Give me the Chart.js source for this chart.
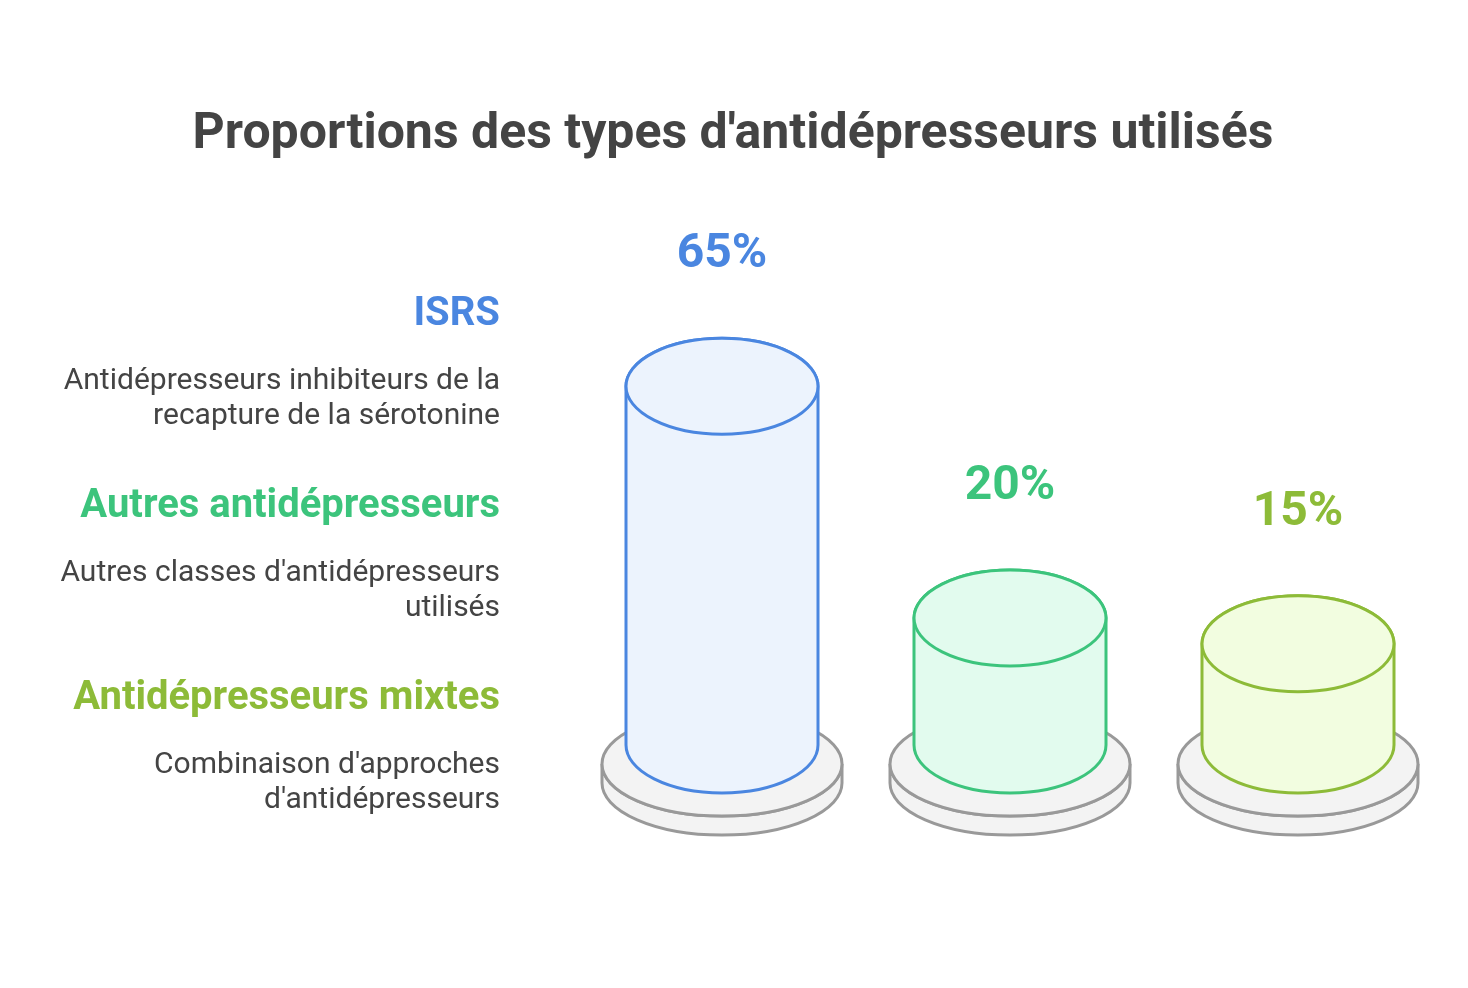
<!DOCTYPE html>
<html><head><meta charset="utf-8">
<script src="https://cdn.jsdelivr.net/npm/chart.js@4"></script>
<style>html,body{margin:0;padding:0;background:#fff}#w{width:1468px;height:988px;position:relative}</style>
</head><body><div id="w"><canvas id="c"></canvas></div>
<script>
const categories = ["ISRS", "Autres antidépresseurs", "Antidépresseurs mixtes"];
const descriptions = [["Antidépresseurs inhibiteurs de la","recapture de la sérotonine"],["Autres classes d'antidépresseurs","utilisés"],["Combinaison d'approches","d'antidépresseurs"]];
const values = [65, 20, 15];
const strokeColors = ["#4a86e0", "#3cc47c", "#8dbb38"];
const fillColors = ["#ecf3fd", "#e2fbee", "#f2fde0"];
const title = "Proportions des types d'antidépresseurs utilisés";

const cyl = {
  id: 'cyl',
  afterDatasetsDraw(chart) {
    const ctx = chart.ctx;
    const meta = chart.getDatasetMeta(0);
    ctx.save();
    ctx.fillStyle = '#444'; ctx.textAlign = 'center'; ctx.textBaseline = 'middle';
    ctx.font = 'bold 50px Roboto';
    ctx.fillText(title, 733, 135);
    ctx.textAlign = 'right';
    categories.forEach((c, i) => {
      const y0 = 315 + i * 192;
      ctx.font = 'bold 40px Roboto'; ctx.fillStyle = strokeColors[i];
      ctx.fillText(c, 500, y0);
      ctx.font = '30px Roboto'; ctx.fillStyle = '#444';
      descriptions[i].forEach((d, k) => ctx.fillText(d, 500, y0 + 66 + k * 35));
    });
    meta.data.forEach((bar, i) => {
      const cx = bar.x, ty = bar.y, by = 745, rx = 96, ry = 48;
      ctx.lineWidth = 3; ctx.strokeStyle = '#999'; ctx.fillStyle = '#f3f3f3';
      ctx.beginPath(); ctx.ellipse(cx, 783, 120, 52, 0, 0, Math.PI); ctx.lineTo(cx - 120, 764);
      ctx.ellipse(cx, 764, 120, 52, 0, Math.PI, 0, true); ctx.closePath(); ctx.fill(); ctx.stroke();
      ctx.beginPath(); ctx.ellipse(cx, 764, 120, 52, 0, 0, 2 * Math.PI); ctx.fill(); ctx.stroke();
      ctx.strokeStyle = strokeColors[i]; ctx.fillStyle = fillColors[i];
      ctx.beginPath(); ctx.moveTo(cx - rx, ty); ctx.lineTo(cx - rx, by);
      ctx.ellipse(cx, by, rx, ry, 0, Math.PI, 0, true); ctx.lineTo(cx + rx, ty);
      ctx.ellipse(cx, ty, rx, ry, 0, 0, Math.PI, true); ctx.closePath(); ctx.fill(); ctx.stroke();
      ctx.beginPath(); ctx.ellipse(cx, ty, rx, ry, 0, 0, 2 * Math.PI); ctx.fill(); ctx.stroke();
      ctx.font = 'bold 48px Roboto'; ctx.fillStyle = strokeColors[i]; ctx.textAlign = 'center';
      ctx.fillText(values[i] + '%', cx, ty - 131);
    });
    ctx.restore();
  }
};

new Chart(document.getElementById('c'), {
  type: 'bar',
  data: { labels: categories, datasets: [{ data: values, backgroundColor: 'rgba(0,0,0,0)' }] },
  options: {
    responsive: true, maintainAspectRatio: false, animation: false,
    layout: { padding: { left: 578, right: 26, top: 206, bottom: 267 } },
    plugins: { legend: { display: false }, tooltip: { enabled: false } },
    scales: { x: { display: false }, y: { display: false, min: 0, max: 100 } }
  },
  plugins: [cyl]
});
</script></body></html>
